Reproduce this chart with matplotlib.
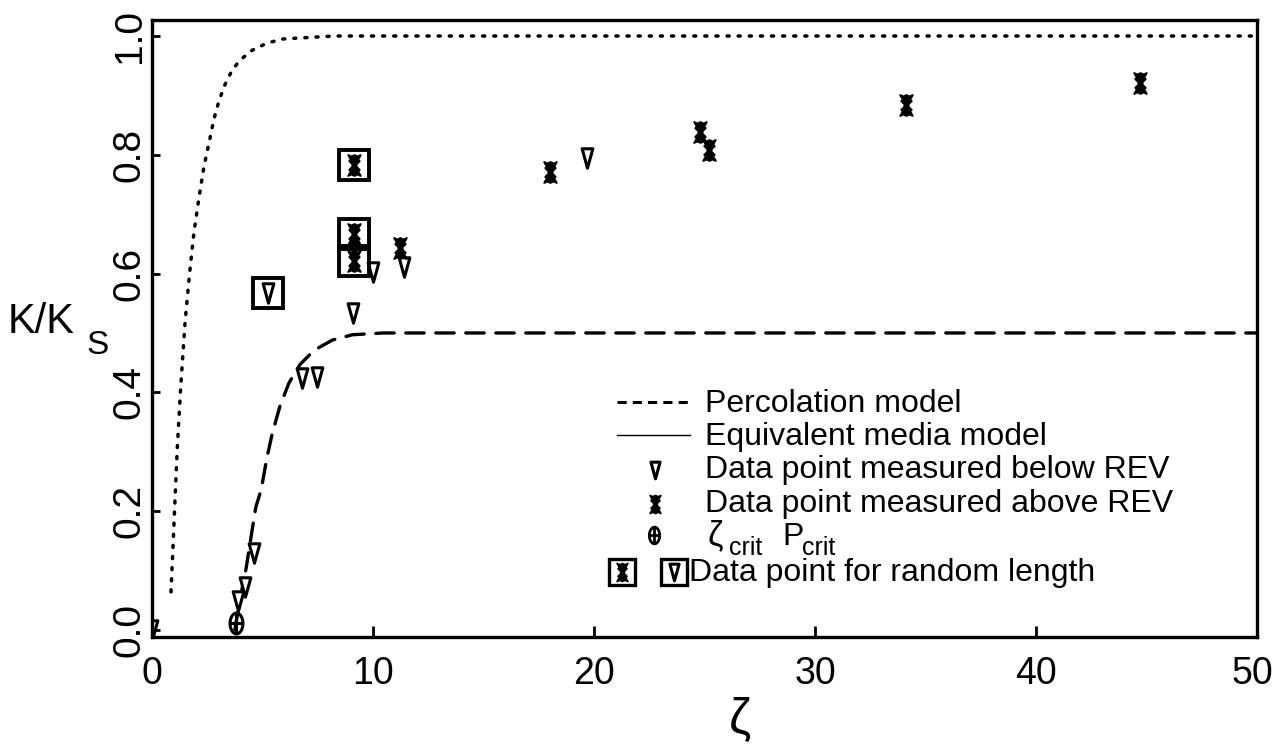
import numpy as np
import matplotlib
matplotlib.use("Agg")
import matplotlib.pyplot as plt
import matplotlib.transforms as mtransforms
from matplotlib.path import Path
from matplotlib.lines import Line2D

plt.rcParams['font.family'] = ['Liberation Sans', 'DejaVu Sans']

# ---------------- data ----------------
perc_x = [3.75, 3.95, 4.26, 4.53, 4.70, 4.94, 5.20, 5.45, 5.80, 6.20, 6.70, 7.34, 8.16, 9.07, 10.5, 50.0]
perc_y = [0.000, 0.045, 0.104, 0.168, 0.207, 0.236, 0.290, 0.332, 0.378, 0.416, 0.447, 0.471, 0.488, 0.497, 0.500, 0.500]

eq_x = [0.86, 0.95, 1.04, 1.15, 1.30, 1.50, 1.70, 1.90, 2.13, 2.35, 2.58, 2.80, 3.04, 3.30, 3.63, 4.00, 4.53, 5.20, 5.90, 8.20, 50.0]
eq_y = [0.064, 0.140, 0.219, 0.310, 0.410, 0.520, 0.600, 0.670, 0.729, 0.780, 0.820, 0.860, 0.892, 0.918, 0.943, 0.960, 0.976, 0.988, 0.995, 1.000, 1.000]

below_x = [0.0, 3.90, 4.20, 4.62, 6.79, 7.47, 9.10, 10.0, 11.4, 19.7]
below_y = [0.0, 0.049, 0.072, 0.130, 0.424, 0.426, 0.534, 0.603, 0.611, 0.795]

above_x = [11.2, 18.0, 24.8, 25.2, 34.1, 44.7]
above_y = [0.643, 0.771, 0.838, 0.808, 0.884, 0.921]

rand_above_x = [9.14, 9.14, 9.14]
rand_above_y = [0.783, 0.667, 0.622]

rand_below_x = [5.27]
rand_below_y = [0.567]

crit_x = [3.80]
crit_y = [0.012]

x_ticks = [0, 10, 20, 30, 40, 50]
y_ticks = [0.0, 0.2, 0.4, 0.6, 0.8, 1.0]
y_tick_labels = ["0.0", "0.2", "0.4", "0.6", "0.8", "1.0"]

# ---------------- marker shapes ----------------
tri_marker = Path([(-0.55, 1.0), (0.55, 1.0), (0.0, -1.0), (-0.55, 1.0)],
                  [Path.MOVETO, Path.LINETO, Path.LINETO, Path.CLOSEPOLY])

hg = [(-0.6, 1.0), (-0.3, 0.86), (0.0, 1.0), (0.3, 0.86), (0.6, 1.0),
      (0.35, 0.55), (0.5, 0.42), (0.2, 0.12), (0.2, -0.12), (0.5, -0.42),
      (0.35, -0.55), (0.6, -1.0), (0.3, -0.86), (0.0, -1.0), (-0.3, -0.86),
      (-0.6, -1.0), (-0.35, -0.55), (-0.5, -0.42), (-0.2, -0.12), (-0.2, 0.12),
      (-0.5, 0.42), (-0.35, 0.55), (-0.6, 1.0)]
star_marker = Path(hg, [Path.MOVETO] + [Path.LINETO] * (len(hg) - 2) + [Path.CLOSEPOLY])

t = np.linspace(0, 2 * np.pi, 41)
ell = list(zip(0.62 * np.cos(t), np.sin(t)))
crit_verts = ell + [(-0.62, 0.0), (0.62, 0.0), (0.0, -1.0), (0.0, 1.0)]
crit_codes = [Path.MOVETO] + [Path.LINETO] * (len(ell) - 1) + [Path.MOVETO, Path.LINETO, Path.MOVETO, Path.LINETO]
crit_marker = Path(crit_verts, crit_codes)

# ---------------- figure ----------------
W, H = 1275, 745
fig = plt.figure(figsize=(W / 100, H / 100), dpi=100)
ax = fig.add_axes([152 / W, 1 - 637 / H, (1257 - 152) / W, (637 - 20) / H])

ax.plot(perc_x, perc_y, color='black', lw=2.4, ls=(0, (5.5, 3.5)), dash_capstyle='round')
ax.plot(eq_x, eq_y, color='black', lw=2.5, ls=(0, (0.6, 2.6)), dash_capstyle='round')

ax.plot(below_x, below_y, ls='none', marker=tri_marker, ms=14, mfc='white', mec='black', mew=2.2)
ax.plot(above_x, above_y, ls='none', marker=star_marker, ms=15, mfc='black', mec='black', mew=1.4)
ax.plot(rand_above_x, rand_above_y, ls='none', marker=star_marker, ms=15, mfc='black', mec='black', mew=1.4)
ax.plot(rand_below_x, rand_below_y, ls='none', marker=tri_marker, ms=14, mfc='white', mec='black', mew=2.2)
ax.plot(rand_above_x + rand_below_x, rand_above_y + rand_below_y, ls='none', marker='s',
        ms=21, mfc='none', mec='black', mew=2.8)
ax.plot(crit_x, crit_y, ls='none', marker=crit_marker, ms=15, mfc='none', mec='black', mew=2.2)

ax.set_xlim(0, 50)
ax.set_ylim(-0.012, 1.027)
ax.set_xticks(x_ticks)
ax.set_xticklabels([str(v) for v in x_ticks])
ax.set_yticks(y_ticks)
ax.set_yticklabels(y_tick_labels, rotation=90, va='center')
ax.tick_params(axis='both', direction='in', width=2, labelsize=28)
ax.tick_params(axis='x', length=8, pad=14, labelsize=27)
ax.tick_params(axis='y', length=6, pad=3)
for sp in ax.spines.values():
    sp.set_linewidth(2.4)
# nudge the last x tick label so it stays inside the canvas
last = ax.get_xticklabels()[-1]
last.set_transform(last.get_transform() + mtransforms.ScaledTranslation(-5 / 100, 0, fig.dpi_scale_trans))

# axis labels
fig.text(740 / W, 1 - 720 / H, 'ζ', fontsize=36, ha='center', va='center')
fig.text(8 / W, 1 - 333 / H, 'K/K', fontsize=30, ha='left', va='baseline')
fig.text(86 / W, 1 - 354 / H, 'S', fontsize=24, ha='left', va='baseline')

# ---------------- legend (hand placed) ----------------
def fx(px):
    return px / W

def fy(py):
    return 1 - py / H

fs = 23
fig.add_artist(Line2D([fx(617), fx(690)], [fy(402), fy(402)], color='black', lw=2.2, ls=(0, (3, 2))))
fig.text(fx(705), fy(404), 'Percolation model', fontsize=fs, va='center')
fig.add_artist(Line2D([fx(617), fx(690)], [fy(435), fy(435)], color='black', lw=1.0))
fig.text(fx(705), fy(437), 'Equivalent media model', fontsize=fs, va='center')
fig.add_artist(Line2D([fx(655)], [fy(470)], ls='none', marker=tri_marker, ms=12, mfc='white', mec='black', mew=2.2))
fig.text(fx(705), fy(470), 'Data point measured below REV', fontsize=fs, va='center')
fig.add_artist(Line2D([fx(655)], [fy(504)], ls='none', marker=star_marker, ms=13, mfc='black', mec='black', mew=1.2))
fig.text(fx(705), fy(504), 'Data point measured above REV', fontsize=fs, va='center')
fig.add_artist(Line2D([fx(654)], [fy(535)], ls='none', marker=crit_marker, ms=12, mfc='none', mec='black', mew=2.0))
fig.text(fx(707), fy(545), 'ζ', fontsize=25, va='baseline')
fig.text(fx(729), fy(555), 'crit', fontsize=18, va='baseline')
fig.text(fx(782), fy(545), 'P', fontsize=fs, va='baseline')
fig.text(fx(802), fy(555), 'crit', fontsize=18, va='baseline')
fig.add_artist(Line2D([fx(622)], [fy(572)], ls='none', marker=star_marker, ms=13, mfc='black', mec='black', mew=1.2))
fig.add_artist(Line2D([fx(622)], [fy(572)], ls='none', marker='s', ms=19, mfc='none', mec='black', mew=2.4))
fig.add_artist(Line2D([fx(674)], [fy(572)], ls='none', marker=tri_marker, ms=12, mfc='white', mec='black', mew=2.2))
fig.add_artist(Line2D([fx(674)], [fy(572)], ls='none', marker='s', ms=19, mfc='none', mec='black', mew=2.4))
fig.text(fx(689), fy(573), 'Data point for random length', fontsize=fs, va='center')

fig.savefig('out.png', dpi=100, facecolor='white')
